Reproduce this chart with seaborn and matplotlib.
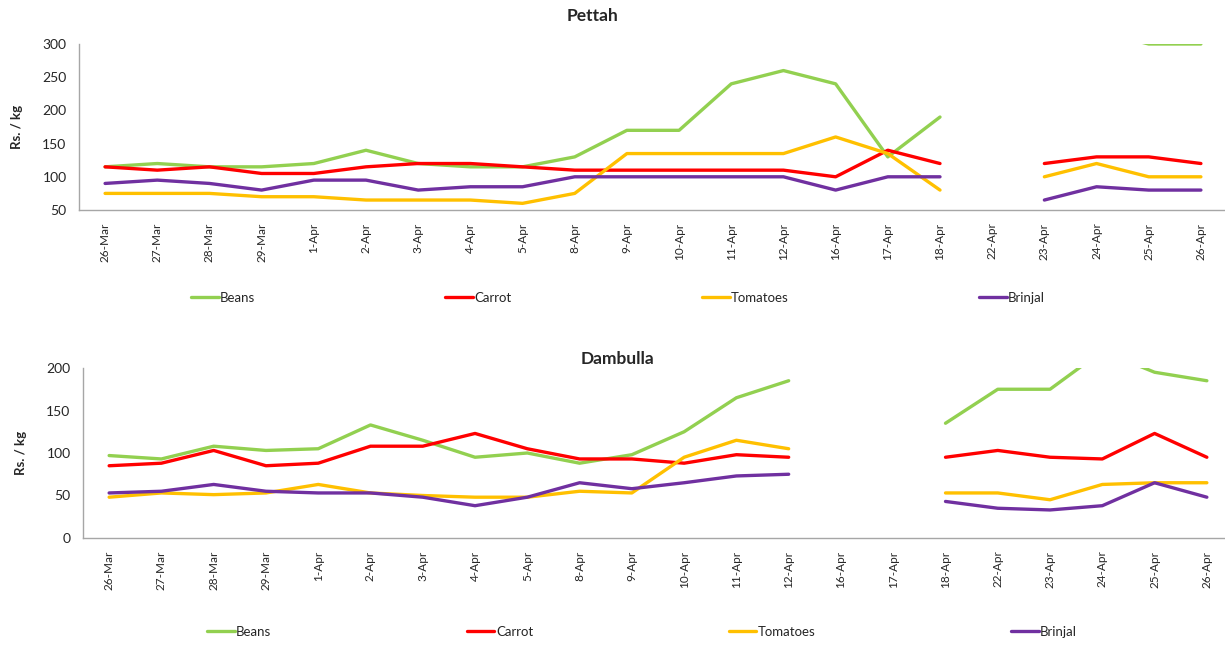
import numpy as np
import pandas as pd
import matplotlib
matplotlib.use("Agg")
import matplotlib.pyplot as plt
import seaborn as sns

sns.set_theme(style="white")
plt.rcParams['font.family'] = ['Lato', 'DejaVu Sans']

nan = np.nan

dates = ['26-Mar', '27-Mar', '28-Mar', '29-Mar', '1-Apr', '2-Apr', '3-Apr', '4-Apr',
         '5-Apr', '8-Apr', '9-Apr', '10-Apr', '11-Apr', '12-Apr', '16-Apr', '17-Apr',
         '18-Apr', '22-Apr', '23-Apr', '24-Apr', '25-Apr', '26-Apr']

vegetables = ['Beans', 'Carrot', 'Tomatoes', 'Brinjal']
colors = ['#92D050', '#FF0000', '#FFC000', '#7030A0']

pettah_beans = [115, 120, 115, 115, 120, 140, 120, 115, 115, 130, 170, 170, 240, 260, 240, 130, 190, nan, 320, 320, 300, 300]
pettah_carrot = [115, 110, 115, 105, 105, 115, 120, 120, 115, 110, 110, 110, 110, 110, 100, 140, 120, nan, 120, 130, 130, 120]
pettah_tomatoes = [75, 75, 75, 70, 70, 65, 65, 65, 60, 75, 135, 135, 135, 135, 160, 135, 80, nan, 100, 120, 100, 100]
pettah_brinjal = [90, 95, 90, 80, 95, 95, 80, 85, 85, 100, 100, 100, 100, 100, 80, 100, 100, nan, 65, 85, 80, 80]

dambulla_beans = [97, 93, 108, 103, 105, 133, 115, 95, 100, 88, 98, 125, 165, 185, nan, nan, 135, 175, 175, 220, 195, 185]
dambulla_carrot = [85, 88, 103, 85, 88, 108, 108, 123, 105, 93, 93, 88, 98, 95, nan, nan, 95, 103, 95, 93, 123, 95]
dambulla_tomatoes = [48, 53, 51, 53, 63, 53, 50, 48, 48, 55, 53, 95, 115, 105, nan, nan, 53, 53, 45, 63, 65, 65]
dambulla_brinjal = [53, 55, 63, 55, 53, 53, 48, 38, 48, 65, 58, 65, 73, 75, nan, nan, 43, 35, 33, 38, 65, 48]


def to_long(series_list):
    frames = []
    for veg, vals in zip(vegetables, series_list):
        s = pd.Series(vals, dtype=float)
        seg = s.isna().cumsum()
        df = pd.DataFrame({'pos': range(len(dates)), 'price': s,
                           'veg': veg, 'seg': veg + seg.astype(str)})
        frames.append(df.dropna())
    return pd.concat(frames, ignore_index=True)


def draw(ax, data, ymax, ystep, ymin):
    sns.lineplot(data=data, x='pos', y='price', hue='veg', units='seg',
                 estimator=None, palette=dict(zip(vegetables, colors)),
                 hue_order=vegetables, linewidth=2.4, legend=False, ax=ax)
    ax.set_xlim(-0.5, len(dates) - 0.5)
    ax.set_ylim(ymin, ymax)
    ax.set_yticks(np.arange(ymin, ymax + 1, ystep))
    ax.set_xticks(range(len(dates)))
    ax.set_xticklabels(dates, rotation=90, fontsize=8.5)
    ax.tick_params(axis='y', labelsize=10, length=0, pad=9)
    ax.tick_params(axis='x', length=0, pad=9)
    ax.set_xlabel('')
    ax.set_ylabel('Rs. / kg', fontsize=9.5, fontweight='bold', labelpad=14)
    for side in ['top', 'right']:
        ax.spines[side].set_visible(False)
    for side in ['left', 'bottom']:
        ax.spines[side].set_color('#A6A6A6')
        ax.spines[side].set_linewidth(1.0)


fig = plt.figure(figsize=(12.25, 6.45), dpi=100)
W, H = 1225, 645

ax1 = fig.add_axes([79 / W, 1 - 210 / H, (1227 - 79) / W, 166 / H])
draw(ax1, to_long([pettah_beans, pettah_carrot, pettah_tomatoes, pettah_brinjal]), 300, 50, 50)

ax2 = fig.add_axes([83 / W, 1 - 538 / H, (1233 - 83) / W, 170 / H])
draw(ax2, to_long([dambulla_beans, dambulla_carrot, dambulla_tomatoes, dambulla_brinjal]), 200, 50, 0)

fig.text(592 / W, 1 - 16 / H, 'Pettah', ha='center', va='center', fontsize=12.5, fontweight='bold')
fig.text(617 / W, 1 - 359 / H, 'Dambulla', ha='center', va='center', fontsize=12.5, fontweight='bold')

handles = [plt.Line2D([], [], color=c, linewidth=2.4) for c in colors]
for xc, yc, sp in [(618 / W, 1 - 298 / H, 14.4), (642 / W, 1 - 632 / H, 14.8)]:
    fig.legend(handles, vegetables, loc='center', bbox_to_anchor=(xc, yc),
               ncol=4, frameon=False, fontsize=9.5, handlelength=2.1,
               handletextpad=0.12, columnspacing=sp)

fig.savefig('out.png', dpi=100)
